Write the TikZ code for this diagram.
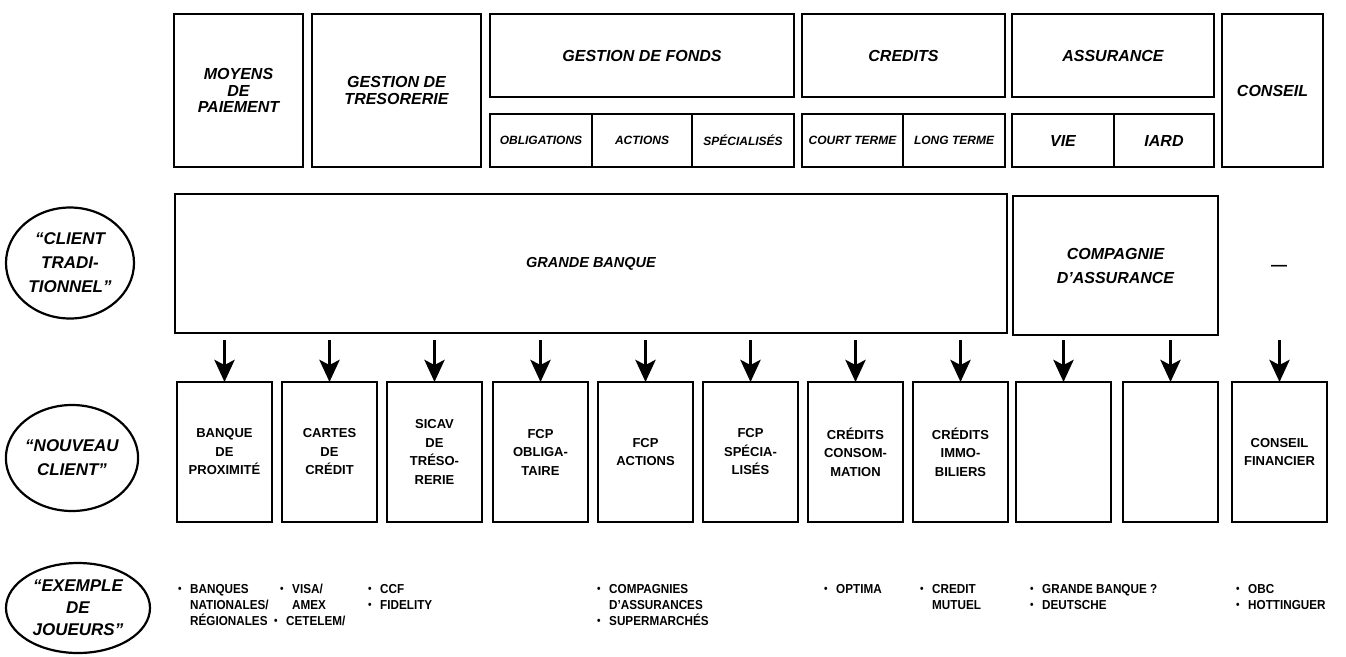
\documentclass[tikz,border=0pt]{standalone}
\usepackage{fontspec}
\setmainfont{Liberation Sans}
\newfontfamily\exfont{Liberation Sans}[FakeStretch=0.9]
\usetikzlibrary{arrows.meta,shapes.geometric}
\newcommand\bul{\makebox[12pt][l]{\raisebox{0.6pt}{\scalebox{0.85}{•}}}}
\begin{document}
\begin{tikzpicture}[x=1pt,y=-1pt,
 box/.style={draw, line width=2.5pt, rectangle, inner sep=0pt, outer sep=0pt, anchor=north west, align=center},
 hd/.style={font=\fontsize{16pt}{16.5pt}\selectfont\bfseries\itshape},
 sm/.style={font=\fontsize{12pt}{13pt}\selectfont\bfseries\itshape},
 bb/.style={box, minimum width=95pt, minimum height=140pt, font=\fontsize{13pt}{18.5pt}\selectfont\bfseries},
 oval/.style={draw, ellipse, line width=2.2pt, inner sep=0pt, align=center, font=\fontsize{17pt}{24pt}\selectfont\bfseries\itshape},
 arr/.style={line width=3.8pt, -{Stealth[length=22pt,width=20pt,inset=5pt]}},
 ex/.style={anchor=base west, inner sep=0pt, font=\exfont\bfseries\fontsize{13pt}{15pt}\selectfont},
]
\useasboundingbox (0,0) rectangle (1346,656);

% top row
\node[box,hd,minimum width=129pt,minimum height=153pt] (moy) at (174,14) {MOYENS\\DE\\PAIEMENT};
\node[box,hd,minimum width=169pt,minimum height=153pt] (tre) at (312,14) {GESTION DE\\TRESORERIE};
\node[box,hd,minimum width=304pt,minimum height=83pt] (fonds) at (490,14) {GESTION DE FONDS};
\node[box,sm,minimum width=102pt,minimum height=53pt] (obl) at (490,114) {OBLIGATIONS};
\node[box,sm,minimum width=100pt,minimum height=53pt] (act) at (592,114) {ACTIONS};
\node[box,sm,minimum width=102pt,minimum height=53pt] (spe) at (692,114) {SPÉCIALISÉS};
\node[box,hd,minimum width=203pt,minimum height=83pt] (cred) at (802,14) {CREDITS};
\node[box,sm,minimum width=101pt,minimum height=53pt] (ct) at (802,114) {COURT TERME};
\node[box,sm,minimum width=102pt,minimum height=53pt] (lt) at (903,114) {LONG TERME};
\node[box,hd,minimum width=202pt,minimum height=83pt] (ass) at (1012,14) {ASSURANCE};
\node[box,hd,minimum width=102pt,minimum height=53pt] (vie) at (1012,114) {VIE};
\node[box,hd,minimum width=100pt,minimum height=53pt] (iard) at (1114,114) {IARD};
\node[box,hd,minimum width=101pt,minimum height=153pt] (cons) at (1222,14) {CONSEIL};

% middle row
\node[oval,minimum width=128pt,minimum height=111pt] (e1) at (70,263) {“CLIENT\\TRADI-\\TIONNEL”};
\node[box,font=\fontsize{14.5pt}{16pt}\selectfont\bfseries\itshape,minimum width=832pt,minimum height=139pt] (gb) at (175,194) {GRANDE BANQUE};
\node[box,font=\fontsize{16pt}{24pt}\selectfont\bfseries\itshape,minimum width=205pt,minimum height=139pt] (ca) at (1013,196) {COMPAGNIE\\D’ASSURANCE};
\node[font=\fontsize{16pt}{16pt}\selectfont\bfseries] (dash) at (1279,268) {—};

% bottom boxes
\node[oval,minimum width=128pt,minimum height=106pt] (e2) at (72,458) {“NOUVEAU\\CLIENT”};
\node[bb] (b1) at (177,382) {BANQUE\\DE\\PROXIMITÉ};
\node[bb] (b2) at (282,382) {CARTES\\DE\\CRÉDIT};
\node[bb] (b3) at (387,382) {SICAV\\DE\\TRÉSO-\\RERIE};
\node[bb] (b4) at (493,382) {FCP\\OBLIGA-\\TAIRE};
\node[bb] (b5) at (598,382) {FCP\\ACTIONS};
\node[bb] (b6) at (703,382) {FCP\\SPÉCIA-\\LISÉS};
\node[bb] (b7) at (808,382) {CRÉDITS\\CONSOM-\\MATION};
\node[bb] (b8) at (913,382) {CRÉDITS\\IMMO-\\BILIERS};
\node[bb] (b9) at (1016,382) {};
\node[bb] (b10) at (1123,382) {};
\node[bb] (b11) at (1232,382) {CONSEIL\\FINANCIER};

\foreach \b in {b1,b2,b3,b4,b5,b6,b7,b8,b9,b10,b11}
  \draw[arr] ([yshift=42pt]\b.north) -- (\b.north);

% examples
\node[oval,minimum width=144pt,minimum height=90pt,font=\fontsize{17pt}{22pt}\selectfont\bfseries\itshape] (e3) at (78,608) {“EXEMPLE\\DE\\JOUEURS”};
\node[ex] (xa1) at (178,593) {\bul BANQUES};
\node[ex] (xa2) at (190,609) {NATIONALES/};
\node[ex] (xa3) at (190,625) {RÉGIONALES};
\node[ex] (xa4) at (274,625) {\bul CETELEM/};
\node[ex] (xb1) at (280,593) {\bul VISA/};
\node[ex] (xb2) at (292,609) {AMEX};
\node[ex] (xc1) at (368,593) {\bul CCF};
\node[ex] (xc2) at (368,609) {\bul FIDELITY};
\node[ex] (xd1) at (597,593) {\bul COMPAGNIES};
\node[ex] (xd2) at (609,609) {D’ASSURANCES};
\node[ex] (xd3) at (597,625) {\bul SUPERMARCHÉS};
\node[ex] (xe1) at (824,593) {\bul OPTIMA};
\node[ex] (xf1) at (920,593) {\bul CREDIT};
\node[ex] (xf2) at (932,609) {MUTUEL};
\node[ex] (xg1) at (1030,593) {\bul GRANDE BANQUE ?};
\node[ex] (xg2) at (1030,609) {\bul DEUTSCHE};
\node[ex] (xh1) at (1236,593) {\bul OBC};
\node[ex] (xh2) at (1236,609) {\bul HOTTINGUER};
\end{tikzpicture}
\end{document}
